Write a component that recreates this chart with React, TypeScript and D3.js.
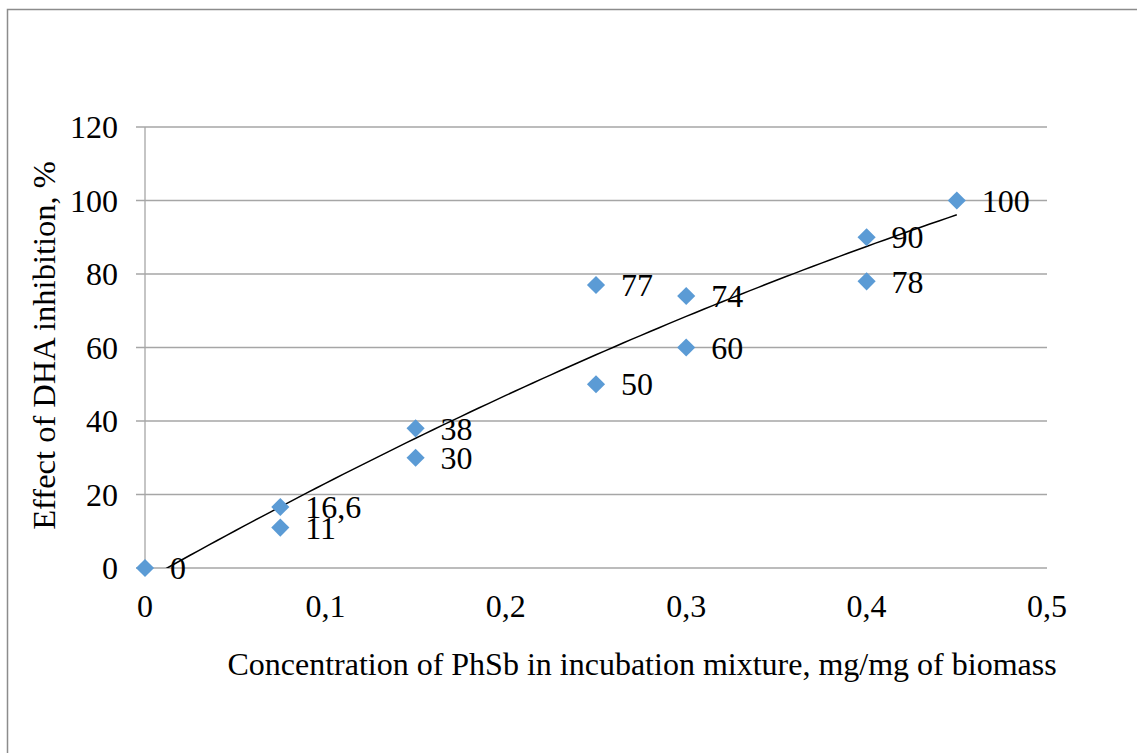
import React, { useRef, useEffect } from 'react';
import * as d3 from 'd3';

// concentration, mg/mg of biomass
const concentration = [0, 0.075, 0.075, 0.15, 0.15, 0.25, 0.25, 0.3, 0.3, 0.4, 0.4, 0.45];
// effect of DHA inhibition, %
const inhibition = [0, 16.6, 11, 38, 30, 77, 50, 74, 60, 90, 78, 100];
const pointLabels = ['0', '16,6', '11', '38', '30', '77', '50', '74', '60', '90', '78', '100'];

const xTicks = [0, 0.1, 0.2, 0.3, 0.4, 0.5];
const yTicks = [0, 20, 40, 60, 80, 100, 120];

const xTitle = 'Concentration of PhSb in incubation mixture, mg/mg of biomass';
const yTitle = 'Effect of DHA inhibition, %';

// least squares fit, order 2 (like the spreadsheet trendline)
const fitQuadratic = (xs: number[], ys: number[]) => {
    const s = [0, 0, 0, 0, 0];
    const t = [0, 0, 0];
    xs.forEach((x, i) => {
        for (let k = 0; k < 5; k++) s[k] += Math.pow(x, k);
        for (let k = 0; k < 3; k++) t[k] += Math.pow(x, k) * ys[i];
    });
    const m = [
        [s[0], s[1], s[2], t[0]],
        [s[1], s[2], s[3], t[1]],
        [s[2], s[3], s[4], t[2]],
    ];
    for (let i = 0; i < 3; i++) {
        for (let j = i + 1; j < 3; j++) {
            const f = m[j][i] / m[i][i];
            for (let k = i; k < 4; k++) m[j][k] -= f * m[i][k];
        }
    }
    const c = [0, 0, 0];
    for (let i = 2; i >= 0; i--) {
        let v = m[i][3];
        for (let k = i + 1; k < 3; k++) v -= m[i][k] * c[k];
        c[i] = v / m[i][i];
    }
    return (x: number) => c[0] + c[1] * x + c[2] * x * x;
};

export default function App() {
    const ref = useRef<SVGSVGElement>(null);

    useEffect(() => {
        const svg = d3.select(ref.current);
        svg.selectAll('*').remove();

        const left = 145, right = 1047, top = 127, bottom = 568;
        const font = "'Liberation Serif', 'Times New Roman', serif";
        const fs = 32;

        const x = d3.scaleLinear().domain([0, 0.5]).range([left, right]);
        const y = d3.scaleLinear().domain([0, 120]).range([bottom, top]);

        //outer border
        svg.append('rect')
            .attr('x', 7.5).attr('y', 9.5)
            .attr('width', 1140).attr('height', 760)
            .attr('fill', 'white')
            .attr('stroke', '#8c8c8c')
            .attr('stroke-width', 1.5);

        //gridlines + y ticks
        svg.append('g')
            .selectAll('line')
            .data(yTicks)
            .enter()
            .append('line')
            .attr('x1', left - 9).attr('x2', right)
            .attr('y1', d => y(d)).attr('y2', d => y(d))
            .attr('stroke', '#a6a6a6')
            .attr('stroke-width', 1.3);

        //y axis line
        svg.append('line')
            .attr('x1', left).attr('x2', left)
            .attr('y1', top).attr('y2', bottom)
            .attr('stroke', '#a6a6a6')
            .attr('stroke-width', 1.3);

        svg.append('g')
            .selectAll('text')
            .data(yTicks)
            .enter()
            .append('text')
            .attr('x', 118)
            .attr('y', d => y(d))
            .attr('dy', '0.35em')
            .attr('text-anchor', 'end')
            .attr('font-family', font)
            .attr('font-size', fs)
            .text(d => String(d));

        svg.append('g')
            .selectAll('text')
            .data(xTicks)
            .enter()
            .append('text')
            .attr('x', d => x(d))
            .attr('y', 617)
            .attr('text-anchor', 'middle')
            .attr('font-family', font)
            .attr('font-size', fs)
            .text(d => String(d).replace('.', ','));

        //axis titles
        svg.append('text')
            .attr('x', 642)
            .attr('y', 675)
            .attr('text-anchor', 'middle')
            .attr('font-family', font)
            .attr('font-size', 32)
            .text(xTitle);

        svg.append('text')
            .attr('transform', `translate(55, ${(top + bottom) / 2 - 2}) rotate(-90)`)
            .attr('text-anchor', 'middle')
            .attr('font-family', font)
            .attr('font-size', 32.5)
            .text(yTitle);

        //trendline
        const trend = fitQuadratic(concentration, inhibition);
        const xs = d3.range(0, 0.4501, 0.005);
        svg.append('defs').append('clipPath').attr('id', 'plot-clip')
            .append('rect')
            .attr('x', left).attr('y', top)
            .attr('width', right - left).attr('height', bottom - top);

        svg.append('path')
            .datum(xs)
            .attr('clip-path', 'url(#plot-clip)')
            .attr('fill', 'none')
            .attr('stroke', 'black')
            .attr('stroke-width', 1.5)
            .attr('d', d3.line<number>().x(d => x(d)).y(d => y(trend(d))));

        //markers
        const diamond = d3.symbol().type(d3.symbolDiamond2).size(210);
        svg.append('g')
            .selectAll('path')
            .data(concentration)
            .enter()
            .append('path')
            .attr('transform', (d, i) => `translate(${x(d)}, ${y(inhibition[i])})`)
            .attr('d', diamond)
            .attr('fill', '#5b9bd5');

        //data labels
        svg.append('g')
            .selectAll('text')
            .data(concentration)
            .enter()
            .append('text')
            .attr('x', d => x(d) + 25)
            .attr('y', (d, i) => y(inhibition[i]))
            .attr('dy', '0.35em')
            .attr('font-family', font)
            .attr('font-size', fs)
            .text((d, i) => pointLabels[i]);
    }, []);

    return (
        <svg ref={ref} width={1137} height={753}
            style={{ position: 'absolute', left: 0, top: 0, background: 'white' }} />
    );
}
